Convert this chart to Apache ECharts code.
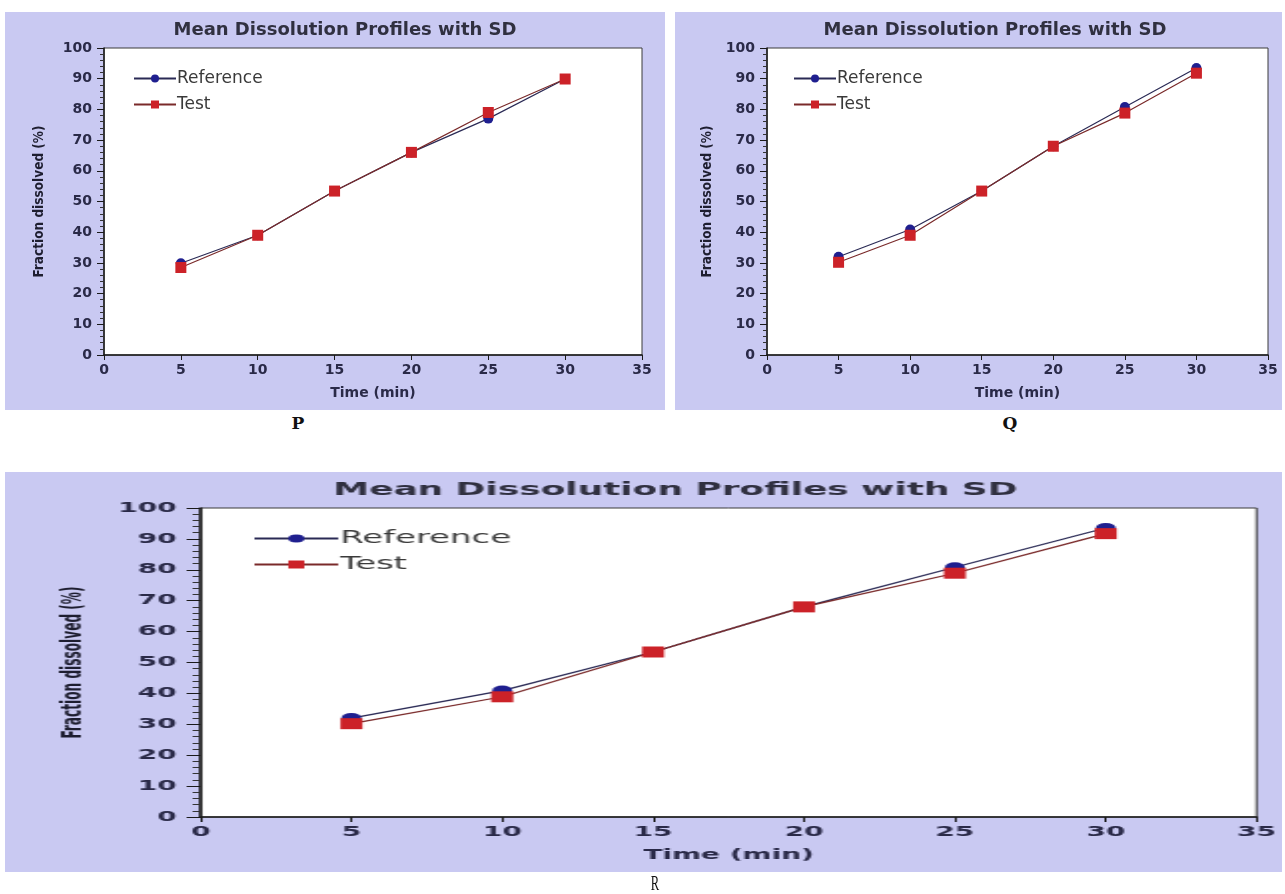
<!DOCTYPE html>
<html>
<head>
<meta charset="utf-8">
<script src="https://cdn.jsdelivr.net/npm/echarts@6/dist/echarts.min.js"></script>
<style>
  html, body { margin: 0; padding: 0; background: #ffffff; width: 1285px; height: 894px; overflow: hidden; }
  .panel { position: absolute; }
  #p { left: 5px; top: 12px; width: 660px; height: 398px; }
  #q { left: 675px; top: 12px; width: 607px; height: 398px; }
  #rwrap { position: absolute; left: 5px; top: 472px; width: 1277px; height: 400px; overflow: hidden; }
  #r { position: absolute; left: 0; top: 0; width: 640px; height: 400px; transform-origin: 0 0; transform: scaleX(1.9953); }
  .lab { position: absolute; font-family: 'DejaVu Serif', 'Liberation Serif', serif; font-weight: bold; font-size: 17px; color: #111; transform: translate(-50%, -50%); }
</style>
</head>
<body>
<div id="p" class="panel"></div>
<div id="q" class="panel"></div>
<div id="rwrap"><div id="r"></div></div>
<div class="lab" style="left:298px; top:423px;">P</div>
<div class="lab" style="left:1010px; top:423px;">Q</div>
<div class="lab" style="left:655px; top:883px; font-weight:normal; font-size:21px; font-family:'Liberation Serif', serif; transform: translate(-50%,-50%) scaleX(0.6);">R</div>
<script>
// ---- data ----
const timeMin = [5, 10, 15, 20, 25, 30];
const refP  = [29.9, 39.0, 53.4, 66.0, 77.0, 89.9];
const testP = [28.5, 39.0, 53.4, 66.0, 79.0, 89.9];
const refQ  = [32.0, 40.9, 53.4, 68.0, 80.8, 93.5];
const testQ = [30.2, 39.0, 53.4, 68.0, 78.8, 91.8];
const refR  = [32.0, 40.9, 53.4, 68.0, 80.8, 93.5];
const testR = [30.2, 38.9, 53.4, 68.0, 78.9, 91.7];
const seriesNames = ['Reference', 'Test'];
const chartTitle = 'Mean Dissolution Profiles with SD';
const xName = 'Time (min)';
const yName = 'Fraction dissolved (%)';
const xMin = 0, xMax = 35, xStep = 5;
const yMin = 0, yMax = 100, yStep = 10;

const BG = '#c9c9f2';
const TXT = '#2a2a48';
const BOLD = "'DejaVu Sans', Verdana, sans-serif";

function pairs(xs, ys) { return xs.map((x, i) => [x, ys[i]]); }

function makeOption(ref, test, g) {
  return {
    backgroundColor: BG,
    animation: false,
    title: {
      text: chartTitle, left: g.titleX, top: 4, textAlign: 'center',
      textStyle: { fontFamily: BOLD, fontWeight: 'bold', fontSize: 18, color: '#303040' }
    },
    legend: {
      orient: 'vertical', left: g.legendLeft, top: 58, padding: 0, itemWidth: 42, itemHeight: 10, itemGap: 9,
      textStyle: { fontFamily: "'DejaVu Sans', Verdana, sans-serif", fontSize: 17, color: '#3a3a3a', padding: [0, 0, 0, -4] },
      data: seriesNames
    },
    grid: {
      left: g.left, right: g.right, top: 36, bottom: 55,
      show: true, backgroundColor: '#ffffff', borderColor: '#3a3a3a', borderWidth: 1
    },
    xAxis: {
      type: 'value', min: xMin, max: xMax, interval: xStep,
      name: xName, nameLocation: 'middle', nameGap: 31,
      nameTextStyle: { fontFamily: BOLD, fontWeight: 'bold', fontSize: 14, color: TXT },
      axisLine: { show: true, onZero: false, lineStyle: { color: '#1a1a1a', width: 1.5 } },
      axisTick: { show: true, inside: false, length: 5, lineStyle: { color: '#1a1a1a' } },
      axisLabel: { fontFamily: BOLD, fontWeight: 'bold', fontSize: 14, color: TXT, margin: 8 },
      splitLine: { show: false }
    },
    yAxis: {
      type: 'value', min: yMin, max: yMax, interval: yStep,
      name: yName, nameLocation: 'middle', nameGap: g.yNameGap, nameRotate: 90,
      nameTextStyle: { fontFamily: "'Liberation Sans Narrow', 'DejaVu Sans Condensed', sans-serif", fontWeight: 'bold', fontSize: 13.5, color: '#1e1e30' },
      axisLine: { show: true, onZero: false, lineStyle: { color: '#1a1a1a', width: 1.5 } },
      axisTick: { show: true, inside: false, length: 7, lineStyle: { color: '#1a1a1a' } },
      minorTick: { show: true, splitNumber: 5, length: 4, lineStyle: { color: '#333' } },
      axisLabel: { fontFamily: BOLD, fontWeight: 'bold', fontSize: 14, color: TXT, margin: 12 },
      splitLine: { show: false }
    },
    series: [
      {
        name: seriesNames[0], type: 'line', data: pairs(timeMin, ref),
        symbol: 'circle', symbolSize: 10,
        itemStyle: { color: '#1f1f8f' },
        lineStyle: { color: '#2a2a55', width: 1.2 }
      },
      {
        name: seriesNames[1], type: 'line', data: pairs(timeMin, test),
        symbol: 'rect', symbolSize: 11,
        itemStyle: { color: '#cc2228' },
        lineStyle: { color: '#7a2a2a', width: 1.2 }
      }
    ]
  };
}

const cp = echarts.init(document.getElementById('p'));
cp.setOption(makeOption(refP, testP, { left: 99, right: 23, titleX: 335, legendLeft: 128, yNameGap: 58 }));
const cq = echarts.init(document.getElementById('q'));
cq.setOption(makeOption(refQ, testQ, { left: 92, right: 14, titleX: 315, legendLeft: 118, yNameGap: 53 }));
const cr = echarts.init(document.getElementById('r'));
cr.setOption(makeOption(refR, testR, { left: 98, right: 7, titleX: 331, legendLeft: 124, yNameGap: 57 }));
</script>
</body>
</html>
